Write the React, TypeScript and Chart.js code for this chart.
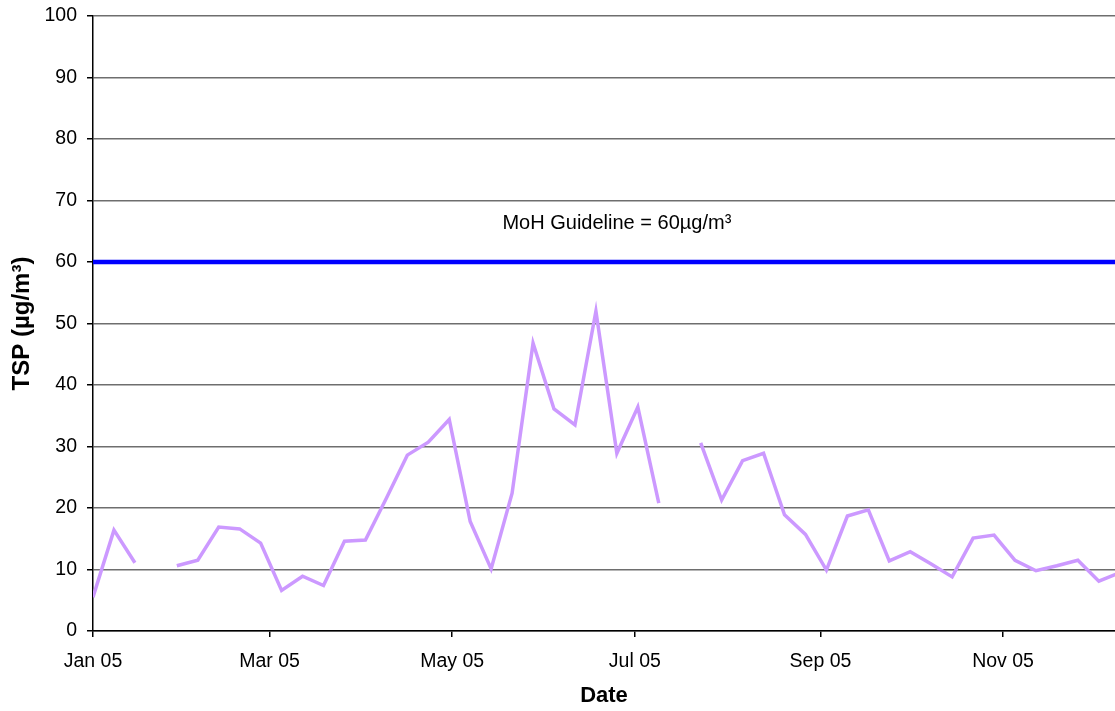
import React, { useEffect, useRef } from "react";
import { Chart, registerables } from "chart.js";

Chart.register(...registerables);

// Sample days (days since 1 Jan 2005), one sample every 7 days
const sampleDays = [
  0, 7, 14, 21, 28, 35, 42, 49, 56, 63, 70, 77, 84, 91, 98, 105, 112, 119, 126, 133,
  140, 147, 154, 161, 168, 175, 182, 189, 196, 203, 210, 217, 224, 231, 238, 245, 252, 259, 266, 273,
  280, 287, 294, 301, 308, 315, 322, 329, 336, 343,
];
// TSP values (µg/m³); null = no sample
const tspValues: (number | null)[] = [
  5.5, 16.4, 11.1, null, 10.6, 11.5, 16.9, 16.6, 14.3, 6.6,
  8.9, 7.4, 14.6, 14.8, 21.6, 28.6, 30.7, 34.4, 17.8, 10.1,
  22.4, 46.8, 36.1, 33.5, 52.0, 28.9, 36.4, 20.8, null, 30.6,
  21.3, 27.7, 28.9, 18.9, 15.7, 9.9, 18.7, 19.7, 11.4, 12.9,
  10.9, 8.8, 15.1, 15.6, 11.5, 9.8, 10.6, 11.5, 8.1, 9.5,
];
// Guideline
const guidelineValue = 60;
const guidelineDays = [0, 345];
const guidelineLabel = "MoH Guideline = 60µg/m³";
const guidelineLabelDay = 175;
const guidelineLabelValue = 66.2;

// X axis
const xMinDay = 0;
const xMaxDay = 341.4;
const tickDays = [0, 59, 120, 181, 243, 304];
const tickLabels = ["Jan 05", "Mar 05", "May 05", "Jul 05", "Sep 05", "Nov 05"];

const FONT = "'Liberation Sans', Arial, sans-serif";

export default function App() {
  const ref = useRef<HTMLCanvasElement>(null);

  useEffect(() => {
    if (!ref.current) return;

    const labelPlugin = {
      id: "guidelineLabel",
      afterDatasetsDraw(chart: any) {
        const { ctx, scales } = chart;
        const x = scales.x.getPixelForValue(guidelineLabelDay);
        const y = scales.y.getPixelForValue(guidelineLabelValue);
        ctx.save();
        ctx.font = `20px ${FONT}`;
        ctx.fillStyle = "#000";
        ctx.textAlign = "center";
        ctx.textBaseline = "middle";
        ctx.fillText(guidelineLabel, x, y);
        ctx.restore();
      },
    };

    const chart = new Chart(ref.current, {
      type: "line",
      data: {
        datasets: [
          {
            label: "Guideline",
            data: guidelineDays.map((d) => ({ x: d, y: guidelineValue })),
            borderColor: "#0000FF",
            borderWidth: 4.5,
            pointRadius: 0,
            fill: false,
          },
          {
            label: "TSP",
            data: sampleDays.map((d, i) => ({ x: d, y: tspValues[i] })),
            borderColor: "#CC99FF",
            borderWidth: 3.5,
            pointRadius: 0,
            spanGaps: false,
            tension: 0,
            fill: false,
          },
        ],
      },
      options: {
        responsive: false,
        animation: false,
        layout: { padding: { top: 16, left: 0, right: 0, bottom: 0 } },
        plugins: {
          legend: { display: false },
          tooltip: { enabled: false },
        },
        scales: {
          x: {
            type: "linear",
            min: xMinDay,
            max: xMaxDay,
            afterBuildTicks: (scale: any) => {
              scale.ticks = tickDays.map((v) => ({ value: v }));
            },
            afterFit: (scale: any) => {
              scale.height = 80;
              scale.paddingLeft = 0;
              scale.paddingRight = 0;
            },
            ticks: {
              autoSkip: false,
              maxRotation: 0,
              padding: 13,
              color: "#000",
              font: { family: FONT, size: 19.5 },
              callback: (v: any) => {
                const i = tickDays.indexOf(Number(v));
                return i >= 0 ? tickLabels[i] : "";
              },
            },
            grid: {
              drawOnChartArea: false,
              drawTicks: true,
              tickLength: 6,
              color: "#000",
              tickColor: "#000",
              lineWidth: 1.5,
            },
            border: { color: "#000", width: 1.5 },
            title: {
              display: true,
              text: "Date",
              color: "#000",
              font: { family: FONT, size: 22, weight: "bold" },
              padding: { top: 0, bottom: 2 },
            },
          },
          y: {
            min: 0,
            max: 100,
            afterFit: (scale: any) => {
              scale.width = 93;
              scale.paddingTop = 0;
              scale.paddingBottom = 0;
            },
            ticks: {
              stepSize: 10,
              padding: 10,
              color: "#000",
              font: { family: FONT, size: 19.5 },
            },
            grid: {
              color: "#6e6e6e",
              lineWidth: 1.5,
              tickLength: 6,
              tickColor: "#000",
            },
            border: { color: "#000", width: 1.5 },
            title: {
              display: true,
              text: "TSP (µg/m³)",
              color: "#000",
              font: { family: FONT, size: 24, weight: "bold" },
              padding: { top: 8, bottom: 0 },
            },
          },
        },
      },
      plugins: [labelPlugin],
    });

    return () => chart.destroy();
  }, []);

  return (
    <div style={{ position: "fixed", left: 0, top: 0, width: 1115, height: 711, background: "#fff" }}>
      <canvas ref={ref} width={1115} height={711} />
    </div>
  );
}
